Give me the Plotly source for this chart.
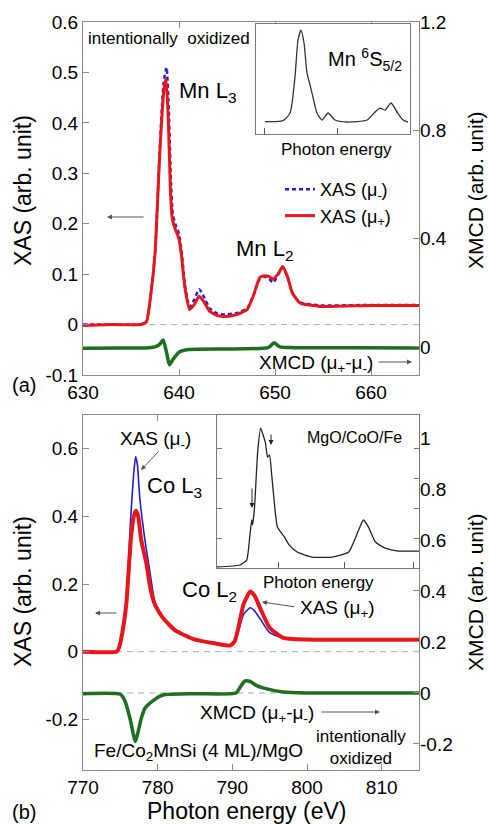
import plotly.graph_objects as go

# ---------------- data ----------------
# Panel (a): Mn L-edge
mn_energy_plus = [630, 633, 636, 636.6, 637.0, 637.5, 638.0, 638.4, 638.65, 638.9, 639.1, 639.3, 639.6, 640.0,
                  640.3, 640.6, 641.1, 641.6, 642.1, 642.6, 643.2, 644.0, 644.8, 646.0, 647.1, 647.8, 648.4,
                  648.9, 649.4, 649.8, 650.3, 650.8, 651.3, 651.8, 652.6, 654.7, 660, 665]
mn_xas_plus = [-0.002, 0.0, 0.0, 0.005, 0.05, 0.14, 0.34, 0.46, 0.489, 0.40, 0.27, 0.21, 0.19, 0.17,
               0.13, 0.075, 0.03, 0.04, 0.056, 0.045, 0.026, 0.018, 0.016, 0.02, 0.03, 0.06, 0.093,
               0.097, 0.095, 0.09, 0.10, 0.115, 0.095, 0.063, 0.043, 0.036, 0.038, 0.038]
mn_energy_minus = [630, 633, 636, 636.6, 637.0, 637.5, 638.0, 638.4, 638.7, 638.95, 639.15, 639.35, 639.6, 640.0,
                   640.3, 640.6, 641.1, 641.6, 642.1, 642.6, 643.2, 644.0, 644.8, 646.0, 647.1, 647.8, 648.4,
                   648.9, 649.4, 649.8, 650.3, 650.8, 651.3, 651.8, 652.6, 654.7, 660, 665]
mn_xas_minus = [0.0, 0.0, 0.0, 0.006, 0.05, 0.14, 0.35, 0.48, 0.51, 0.42, 0.29, 0.22, 0.2, 0.18,
                0.14, 0.08, 0.035, 0.05, 0.07, 0.055, 0.032, 0.022, 0.02, 0.023, 0.032, 0.06, 0.09,
                0.095, 0.09, 0.083, 0.098, 0.113, 0.095, 0.063, 0.044, 0.038, 0.039, 0.039]
mn_xmcd_energy = [630, 634, 636.5, 637.5, 638.0, 638.35, 638.7, 639.0, 639.4, 640.0, 641.0, 645, 649.3,
                  649.9, 650.5, 652, 658, 665]
mn_xmcd = [-0.005, -0.004, -0.004, 0.0, 0.01, 0.025, -0.02, -0.066, -0.045, -0.02, -0.01, -0.008, -0.003,
           0.015, 0.0, -0.003, -0.003, -0.004]

# Panel (a) inset: Mn 6S5/2 calculated spectrum (arbitrary units)
mn_calc_x = [5.8, 17.5, 22.1, 25.3, 27.3, 29.2, 31.2, 33.1, 35.1, 37.0, 39.6, 42.9, 46.8, 51.3, 59.1,
             72.1, 77.3, 80.5, 83.8, 87.7, 91.6, 95.5, 98.7]
mn_calc_y = [0.112, 0.121, 0.191, 0.518, 0.855, 0.945, 0.827, 0.555, 0.445, 0.336, 0.191, 0.127, 0.191,
             0.127, 0.109, 0.127, 0.2, 0.236, 0.218, 0.282, 0.2, 0.127, 0.109]

# Panel (b): Co L-edge
co_energy_plus = [770, 774.5, 774.8, 775.3, 775.8, 776.4, 776.8, 777.1, 777.4, 777.8, 778.5, 779.0, 779.6,
                  780.7, 782.4, 784.7, 787.8, 789.7, 790.3, 790.8, 791.5, 792.4, 793.0, 793.7, 795.0,
                  796.8, 800, 815]
co_xas_plus = [0.0, 0.0, 0.01, 0.06, 0.14, 0.33, 0.40, 0.417, 0.40, 0.33, 0.26, 0.19, 0.14,
               0.10, 0.062, 0.038, 0.024, 0.018, 0.03, 0.07, 0.14, 0.178, 0.165, 0.13, 0.071,
               0.041, 0.036, 0.035]
co_energy_minus = [770, 774.5, 774.8, 775.3, 775.8, 776.4, 776.8, 777.05, 777.3, 777.6, 778.3, 779.0, 779.6,
                   780.7, 782.4, 784.7, 787.8, 789.7, 790.3, 790.8, 791.5, 792.4, 793.0, 793.7, 795.0,
                   796.8, 800, 815]
co_xas_minus = [0.0, 0.0, 0.01, 0.06, 0.15, 0.40, 0.53, 0.577, 0.55, 0.455, 0.33, 0.23, 0.15,
                0.10, 0.062, 0.038, 0.024, 0.018, 0.028, 0.06, 0.11, 0.13, 0.12, 0.098, 0.056,
                0.04, 0.036, 0.035]
co_xmcd_energy = [770, 775.0, 775.6, 776.3, 777.0, 777.8, 778.3, 779.4, 780.7, 785, 790.5, 791.2, 791.7,
                  792.4, 793.2, 794.1, 796.8, 800, 815]
co_xmcd = [-0.003, -0.005, -0.03, -0.10, -0.19, -0.10, -0.06, -0.03, -0.008, -0.003, 0.0, 0.03, 0.047,
           0.045, 0.03, 0.02, 0.004, 0.0, 0.0]

# Panel (b) inset: MgO/CoO/Fe reference spectrum (arbitrary units)
coo_x = [0, 11.3, 14.7, 16.2, 17.2, 17.6, 18.6, 20.1, 21.6, 22.5, 24.0, 25.0, 26.0, 27.0, 28.4, 29.9,
         33.3, 35.8, 39.7, 47.1, 56.9, 65.2, 70.1, 72.5, 75.0, 78.4, 83.3, 89.7, 100]
coo_y = [0.007, 0.02, 0.053, 0.207, 0.32, 0.287, 0.407, 0.767, 0.933, 0.9, 0.833, 0.74, 0.753, 0.633,
         0.433, 0.273, 0.207, 0.153, 0.107, 0.073, 0.073, 0.107, 0.253, 0.32, 0.273, 0.173, 0.133,
         0.113, 0.113]

# tick labels
a_left_ticks = [-0.1, 0, 0.1, 0.2, 0.3, 0.4, 0.5, 0.6]
a_left_text = ["-0.1", "0", "0.1", "0.2", "0.3", "0.4", "0.5", "0.6"]
a_right_ticks = [0, 0.4, 0.8, 1.2]
a_right_text = ["0", "0.4", "0.8", "1.2"]
a_x_ticks = [630, 640, 650, 660]
b_left_ticks = [-0.2, 0, 0.2, 0.4, 0.6]
b_left_text = ["-0.2", "0", "0.2", "0.4", "0.6"]
b_right_ticks = [-0.2, 0, 0.2, 0.4, 0.6, 0.8, 1.0]
b_right_text = ["-0.2", "0", "0.2", "0.4", "0.6", "0.8", "1"]
b_x_ticks = [770, 780, 790, 800, 810]

# ---------------- styles ----------------
RED = "#e8161b"
BLUE = "#1f1fd6"
GREEN = "#1f6e22"
GRAY = "#8a8a8a"
FONT = "Liberation Sans, Arial, sans-serif"

W, H = 489, 825
ML, MR, MT, MB = 83, 70, 22, 55
PW, PH = W - ML - MR, H - MT - MB


def P(x, y):
    return (x - ML) / PW, 1 - (y - MT) / PH


fig = go.Figure()

# Panel (a)
fig.add_trace(go.Scatter(x=mn_energy_minus, y=mn_xas_minus, mode="lines", name="XAS (μ<sub>-</sub>)",
                         line=dict(color=BLUE, width=2.5, dash="4px,3px", shape="spline", smoothing=0.5),
                         xaxis="x", yaxis="y"))
fig.add_trace(go.Scatter(x=mn_energy_plus, y=mn_xas_plus, mode="lines", name="XAS (μ<sub>+</sub>)",
                         line=dict(color=RED, width=3, shape="spline", smoothing=0.5),
                         xaxis="x", yaxis="y"))
fig.add_trace(go.Scatter(x=mn_xmcd_energy, y=mn_xmcd, mode="lines", showlegend=False,
                         line=dict(color=GREEN, width=3.5, shape="spline", smoothing=0.5),
                         xaxis="x", yaxis="y2"))
# inset (a)
fig.add_trace(go.Scatter(x=mn_calc_x, y=mn_calc_y, mode="lines", showlegend=False,
                         line=dict(color="#333333", width=1.3, shape="spline", smoothing=0.6),
                         xaxis="x3", yaxis="y5"))

# Panel (b)
fig.add_trace(go.Scatter(x=co_energy_minus, y=co_xas_minus, mode="lines", showlegend=False,
                         line=dict(color=BLUE, width=1.6, shape="spline", smoothing=0.5),
                         xaxis="x2", yaxis="y3"))
fig.add_trace(go.Scatter(x=co_energy_plus, y=co_xas_plus, mode="lines", showlegend=False,
                         line=dict(color=RED, width=4, shape="spline", smoothing=0.5),
                         xaxis="x2", yaxis="y3"))
fig.add_trace(go.Scatter(x=co_xmcd_energy, y=co_xmcd, mode="lines", showlegend=False,
                         line=dict(color=GREEN, width=3.5, shape="spline", smoothing=0.5),
                         xaxis="x2", yaxis="y4"))
# inset (b)
fig.add_trace(go.Scatter(x=coo_x, y=coo_y, mode="lines", showlegend=False,
                         line=dict(color="#222222", width=1.3, shape="spline", smoothing=0.5),
                         xaxis="x4", yaxis="y6"))

tickfont = dict(family=FONT, size=19, color="black")
common = dict(showgrid=False, zeroline=False, ticks="inside", ticklen=6, tickcolor=GRAY,
              tickfont=tickfont, linecolor=GRAY, linewidth=1)

a_top = P(0, 22)[1]
a_bot = P(0, 375)[1]
b_top = P(0, 415)[1]

fig.update_layout(
    width=W, height=H, margin=dict(l=ML, r=MR, t=MT, b=MB),
    paper_bgcolor="white", plot_bgcolor="white",
    font=dict(family=FONT, color="black"),
    xaxis=dict(domain=[0, 1], anchor="y", range=[630, 665], tickvals=a_x_ticks, showline=True,
               mirror="ticks", **common),
    yaxis=dict(domain=[a_bot, a_top], anchor="x", range=[-0.1, 0.6], tickvals=a_left_ticks,
               ticktext=a_left_text, showline=True, mirror=True, **common),
    yaxis2=dict(overlaying="y", side="right", anchor="x", range=[-0.104, 1.2], tickvals=a_right_ticks,
                ticktext=a_right_text, showline=False, **common),
    xaxis2=dict(domain=[0, 1], anchor="y3", range=[770, 815], tickvals=b_x_ticks, showline=True,
                mirror="ticks", **common),
    yaxis3=dict(domain=[0, b_top], anchor="x2", range=[-0.35, 0.7], tickvals=b_left_ticks,
                ticktext=b_left_text, showline=True, mirror=True, **common),
    yaxis4=dict(overlaying="y3", side="right", anchor="x2", range=[-0.302, 1.09], tickvals=b_right_ticks,
                ticktext=b_right_text, showline=False, **common),
    xaxis3=dict(domain=[P(256, 0)[0], P(410, 0)[0]], anchor="y5", range=[0, 100],
                tickvals=[5.8, 52.6, 99.4], showticklabels=False, showline=True, mirror=True,
                showgrid=False, zeroline=False, ticks="inside", ticklen=6, tickcolor="#555",
                linecolor="#777", linewidth=1),
    yaxis5=dict(domain=[P(0, 134)[1], P(0, 24)[1]], anchor="x3", range=[0, 1],
                showticklabels=False, showline=True, mirror=True, showgrid=False, zeroline=False,
                ticks="", linecolor="#777", linewidth=1),
    xaxis4=dict(domain=[P(217, 0)[0], 1.0], anchor="y6", range=[0, 100],
                tickvals=[30.4, 63.2, 97.1], showticklabels=False, showline=True, mirror=True,
                showgrid=False, zeroline=False, ticks="inside", ticklen=6, tickcolor="#555",
                linecolor="#777", linewidth=1),
    yaxis6=dict(domain=[P(0, 568)[1], b_top], anchor="x4", range=[0, 1.02],
                tickvals=[0.2, 0.4, 0.6, 0.8], showticklabels=False, showline=True, mirror="ticks",
                showgrid=False, zeroline=False, ticks="inside", ticklen=5, tickcolor="#777",
                linecolor="#777", linewidth=1),
    legend=dict(x=P(280, 0)[0], y=P(0, 171)[1], xanchor="left", yanchor="top",
                bgcolor="rgba(0,0,0,0)", font=dict(family=FONT, size=18, color="black"),
                tracegroupgap=0, itemwidth=30),
)

# dashed zero reference lines
dash_line = dict(color="#aaaaaa", width=1, dash="6px,5px")
fig.add_shape(type="line", xref="x domain", x0=0, x1=1, yref="y", y0=0, y1=0, line=dash_line, layer="below")
fig.add_shape(type="line", xref="x2 domain", x0=0, x1=1, yref="y3", y0=0, y1=0, line=dash_line, layer="below")
fig.add_shape(type="line", xref="x2 domain", x0=0, x1=1, yref="y4", y0=0, y1=0, line=dash_line, layer="below")


def text(t, x, y, size=19, xanchor="center", yanchor="middle", angle=0):
    px, py = P(x, y)
    fig.add_annotation(text=t, x=px, y=py, xref="paper", yref="paper", showarrow=False,
                       xanchor=xanchor, yanchor=yanchor, textangle=angle,
                       font=dict(family=FONT, size=size, color="black"))


def arrow(x_head, y_head, x_tail, y_tail, color="#555555"):
    px, py = P(x_head, y_head)
    fig.add_annotation(text="", x=px, y=py, xref="paper", yref="paper", showarrow=True,
                       ax=x_tail - x_head, ay=y_tail - y_head, axref="pixel", ayref="pixel",
                       arrowhead=2, arrowsize=1.0, arrowwidth=1, arrowcolor=color)


# Axis titles
text("XAS (arb. unit)", 23, 191, size=23, angle=-90)
text("XMCD (arb. unit)", 475, 190, size=21, angle=-90)
text("XAS (arb. unit)", 23, 592, size=23, angle=-90)
text("XMCD (arb. unit)", 475, 592, size=21, angle=-90)
text("Photon energy (eV)", 246, 811, size=23)
text("(a)", 24, 385, size=20)
text("(b)", 24, 812, size=20)

# Panel (a) annotations
text("intentionally  oxidized", 86, 39, size=17, xanchor="left")
text("Mn L<sub>3</sub>", 177, 92, size=22, xanchor="left")
text("Mn L<sub>2</sub>", 234, 250, size=22, xanchor="left")
text("Mn <sup>6</sup>S<sub>5/2</sub>", 326, 60, size=20, xanchor="left")
text("Photon energy", 336, 149, size=17)
arrow(107, 217, 145, 217)
text("XMCD (μ<sub>+</sub>-μ<sub>-</sub>)", 257, 364, size=19, xanchor="left")
arrow(412, 362, 377, 362)

# Panel (b) annotations
text("XAS (μ<sub>-</sub>)", 118, 440, size=19, xanchor="left")
arrow(141, 470, 160, 450)
text("Co L<sub>3</sub>", 145, 487, size=22, xanchor="left")
text("Co L<sub>2</sub>", 180, 591, size=22, xanchor="left")
text("XAS (μ<sub>+</sub>)", 298, 609, size=19, xanchor="left")
arrow(262, 602, 296, 607)
arrow(95, 613, 118, 613)
text("XMCD (μ<sub>+</sub>-μ<sub>-</sub>)", 198, 714, size=19, xanchor="left")
arrow(380, 712, 320, 712)
text("Fe/Co<sub>2</sub>MnSi (4 ML)/MgO", 92, 752, size=19, xanchor="left")
text("intentionally<br>oxidized", 361, 747, size=17)
text("MgO/CoO/Fe", 354, 437, size=16)
text("Photon energy", 318, 582, size=17)
arrow(252, 508, 252, 487, color="#222222")
arrow(271, 445, 271, 433, color="#222222")

fig.write_html("out.html", config={"displayModeBar": False},
               post_script="document.body.style.margin='0px';")
